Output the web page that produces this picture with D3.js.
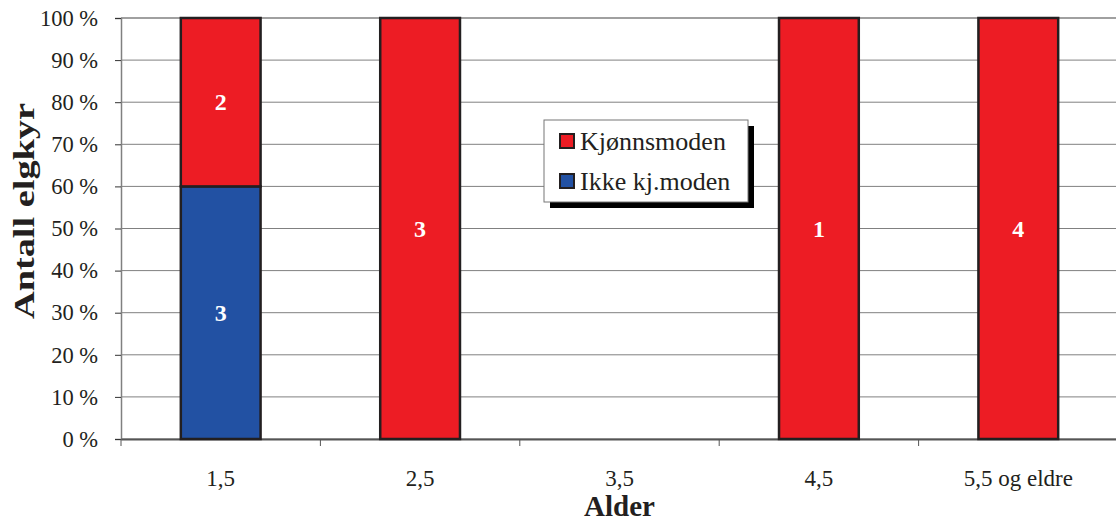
<!DOCTYPE html>
<html>
<head>
<meta charset="utf-8">
<script src="https://cdn.jsdelivr.net/npm/d3@7"></script>
<style>
  body { margin: 0; background: #fff; }
  svg { display: block; }
  svg text { font-family: "Liberation Serif", "Times New Roman", Times, serif !important; }
</style>
</head>
<body>
<div id="chart"></div>
<script>
// data
var categories = ["1,5", "2,5", "3,5", "4,5", "5,5 og eldre"];
var ikkeModen = [3, 0, 0, 0, 0];
var kjonnsmoden = [2, 3, 0, 1, 4];
var seriesNames = ["Kjønnsmoden", "Ikke kj.moden"];
var yTicks = [0, 10, 20, 30, 40, 50, 60, 70, 80, 90, 100];

var svgWidth = 1116;
var svgHeight = 524;
var margin = { top: 18, right: -2, bottom: 85, left: 121 };
var width = svgWidth - margin.left - margin.right;
var height = svgHeight - margin.top - margin.bottom;

var colors = { "Kjønnsmoden": "#ed1c24", "Ikke kj.moden": "#2251a3" };

var svg = d3.select("#chart").append("svg")
    .attr("width", svgWidth)
    .attr("height", svgHeight);

var chartGroup = svg.append("g")
    .attr("transform", `translate(${margin.left}, ${margin.top})`);

// percent table for stacking
var table = categories.map(function(c, i) {
    var total = ikkeModen[i] + kjonnsmoden[i];
    return {
        cat: c,
        "Ikke kj.moden": total ? ikkeModen[i] / total * 100 : 0,
        "Kjønnsmoden": total ? kjonnsmoden[i] / total * 100 : 0,
        nIkke: ikkeModen[i],
        nKj: kjonnsmoden[i]
    };
});

var xScale = d3.scaleBand()
    .domain(categories)
    .range([0, width])
    .paddingInner(0.6)
    .paddingOuter(0.3);

var xBand = d3.scaleBand().domain(categories).range([0, width]);

var yScale = d3.scaleLinear()
    .domain([0, 100])
    .range([height, 0]);

// gridlines
chartGroup.append("g")
    .selectAll("line")
    .data(yTicks)
    .enter()
    .append("line")
    .attr("x1", 0)
    .attr("x2", width)
    .attr("y1", d => yScale(d))
    .attr("y2", d => yScale(d))
    .attr("stroke", d => d === 100 ? "#a0a0a0" : "#808080")
    .attr("stroke-width", d => d === 100 ? 2 : 1);

// y axis
var yAxis = d3.axisLeft(yScale)
    .tickValues(yTicks)
    .tickFormat(d => d + " %")
    .tickSize(6)
    .tickPadding(17);

var yG = chartGroup.append("g").call(yAxis);
yG.select(".domain").attr("stroke", "#808080").attr("stroke-width", 1.5);
yG.selectAll(".tick line").attr("stroke", "#333");
yG.selectAll("text")
    .attr("font-size", 22.5)
    .attr("fill", "#231f20");

// x axis
var xAxis = d3.axisBottom(xBand).tickSize(0).tickFormat(d => d).tickPadding(31);
var xG = chartGroup.append("g")
    .attr("transform", `translate(0, ${height})`)
    .call(xAxis);
xG.select(".domain").attr("stroke", "#555").attr("stroke-width", 2);
xG.selectAll("text")
    .attr("font-size", 23)
    .attr("fill", "#231f20");

// x ticks at category boundaries
chartGroup.append("g")
    .selectAll("line")
    .data(categories)
    .enter()
    .append("line")
    .attr("x1", d => xBand(d))
    .attr("x2", d => xBand(d))
    .attr("y1", height)
    .attr("y2", height + 7)
    .attr("stroke", "#555")
    .attr("stroke-width", 1);

// stacked bars
var stack = d3.stack().keys(["Ikke kj.moden", "Kjønnsmoden"]);
var series = stack(table);

var layers = chartGroup.selectAll(".layer")
    .data(series)
    .enter()
    .append("g")
    .attr("class", "layer")
    .attr("fill", d => colors[d.key]);

layers.selectAll("rect")
    .data(d => d.filter(p => p[1] - p[0] > 0))
    .enter()
    .append("rect")
    .attr("x", d => xScale(d.data.cat))
    .attr("y", d => yScale(d[1]))
    .attr("width", xScale.bandwidth())
    .attr("height", d => yScale(d[0]) - yScale(d[1]))
    .attr("stroke", "#231f20")
    .attr("stroke-width", 2.5);

// counts inside bars
layers.selectAll("text")
    .data(d => d.filter(p => p[1] - p[0] > 0).map(p => ({ p: p, key: d.key })))
    .enter()
    .append("text")
    .attr("x", d => xScale(d.p.data.cat) + xScale.bandwidth() / 2)
    .attr("y", d => yScale((d.p[0] + d.p[1]) / 2) + 8)
    .attr("text-anchor", "middle")
    .attr("fill", "#fff")
    .attr("font-weight", "bold")
    .attr("font-size", 24)
    .text(d => d.key === "Ikke kj.moden" ? d.p.data.nIkke : d.p.data.nKj);

// legend
var legend = svg.append("g").attr("transform", "translate(544, 120)");
legend.append("rect")
    .attr("x", 6).attr("y", 6)
    .attr("width", 204).attr("height", 82)
    .attr("fill", "#000");
legend.append("rect")
    .attr("x", 0).attr("y", 0)
    .attr("width", 204).attr("height", 82)
    .attr("fill", "#fff")
    .attr("stroke", "#777")
    .attr("stroke-width", 1);

var items = legend.selectAll(".item")
    .data(seriesNames)
    .enter()
    .append("g")
    .attr("transform", (d, i) => `translate(16, ${14 + i * 40})`);
items.append("rect")
    .attr("width", 14).attr("height", 14)
    .attr("fill", d => colors[d])
    .attr("stroke", "#231f20")
    .attr("stroke-width", 2);
items.append("text")
    .attr("x", 20)
    .attr("y", 16)
    .attr("font-size", 26)
    .attr("fill", "#231f20")
    .text(d => d);

// axis labels
svg.append("text")
    .attr("transform", "rotate(-90)")
    .attr("x", -211)
    .attr("y", 34)
    .attr("text-anchor", "middle")
    .attr("font-weight", "bold")
    .attr("font-size", 29)
    .attr("textLength", 216)
    .attr("lengthAdjust", "spacingAndGlyphs")
    .attr("fill", "#231f20")
    .text("Antall elgkyr");

svg.append("text")
    .attr("x", margin.left + width / 2)
    .attr("y", 516)
    .attr("text-anchor", "middle")
    .attr("font-weight", "bold")
    .attr("font-size", 29)
    .attr("fill", "#231f20")
    .text("Alder");
</script>
</body>
</html>
